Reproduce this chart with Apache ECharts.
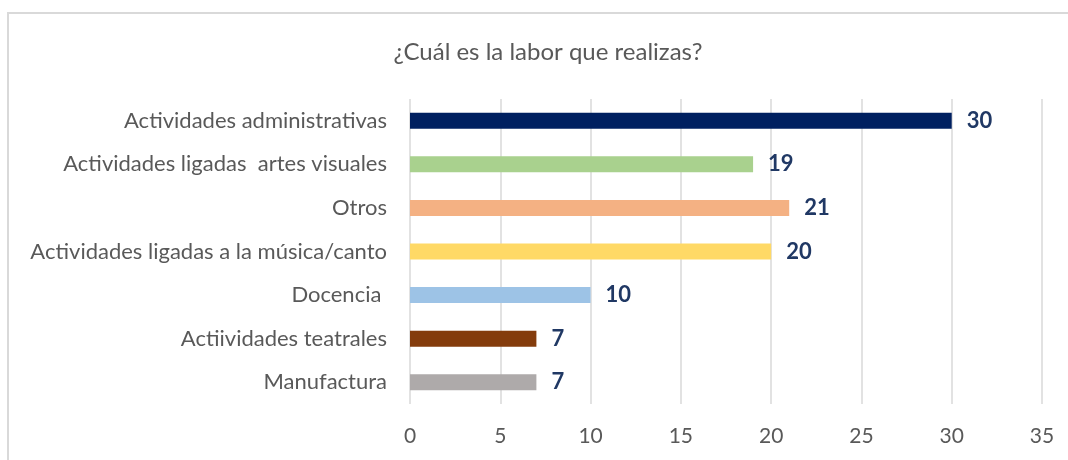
<!DOCTYPE html>
<html>
<head>
<meta charset="utf-8">
<script src="https://cdn.jsdelivr.net/npm/echarts@6/dist/echarts.min.js"></script>
<style>
  html, body { margin: 0; padding: 0; background: #fff; }
  #chart { width: 1068px; height: 460px; }
</style>
</head>
<body>
<div id="chart"></div>
<script>
// datos de la encuesta
var titleText = '¿Cuál es la labor que realizas?';
var categories = [
    'Actividades administrativas',
    'Actividades ligadas  artes visuales',
    'Otros',
    'Actividades ligadas a la música/canto',
    'Docencia ',
    'Actiividades teatrales',
    'Manufactura'
];
var values = [30, 19, 21, 20, 10, 7, 7];
var barColors = ['#002060', '#A9D18E', '#F4B183', '#FFD966', '#9DC3E6', '#843C0C', '#AEAAAA'];
var xTicks = [0, 5, 10, 15, 20, 25, 30, 35];

var FONT = 'Lato';
var chart = echarts.init(document.getElementById('chart'));

var seriesData = values.map(function (v, i) {
    return { value: v, itemStyle: { color: barColors[i] } };
});

var option = {
    animation: false,
    textStyle: { fontFamily: FONT },
    graphic: [{
        type: 'rect',
        shape: { x: 8, y: 13, width: 1120, height: 520 },
        style: { fill: 'none', stroke: '#D9D9D9', lineWidth: 2 },
        silent: true
    }],
    title: {
        text: titleText,
        left: 543,
        top: 35,
        textAlign: 'center',
        textStyle: { color: '#595959', fontSize: 24, fontWeight: 'normal', fontFamily: FONT }
    },
    grid: { left: 410, right: 26, top: 99, bottom: 56 },
    xAxis: {
        type: 'value',
        min: xTicks[0],
        max: xTicks[xTicks.length - 1],
        interval: 5,
        axisLine: { show: false },
        axisTick: { show: false },
        splitLine: { lineStyle: { color: '#D9D9D9', width: 1.5 } },
        axisLabel: { color: '#595959', fontSize: 21, margin: 22, fontFamily: FONT }
    },
    yAxis: {
        type: 'category',
        inverse: true,
        data: categories,
        axisLine: { show: false },
        axisTick: { show: false },
        axisLabel: { color: '#595959', fontSize: 22, margin: 23, fontFamily: FONT }
    },
    series: [{
        type: 'bar',
        data: seriesData,
        barWidth: 16,
        label: {
            show: true,
            position: 'right',
            distance: 15,
            color: '#203864',
            fontSize: 22,
            fontWeight: 'bold',
            fontFamily: FONT
        }
    }]
};

chart.setOption(option);
</script>
</body>
</html>
